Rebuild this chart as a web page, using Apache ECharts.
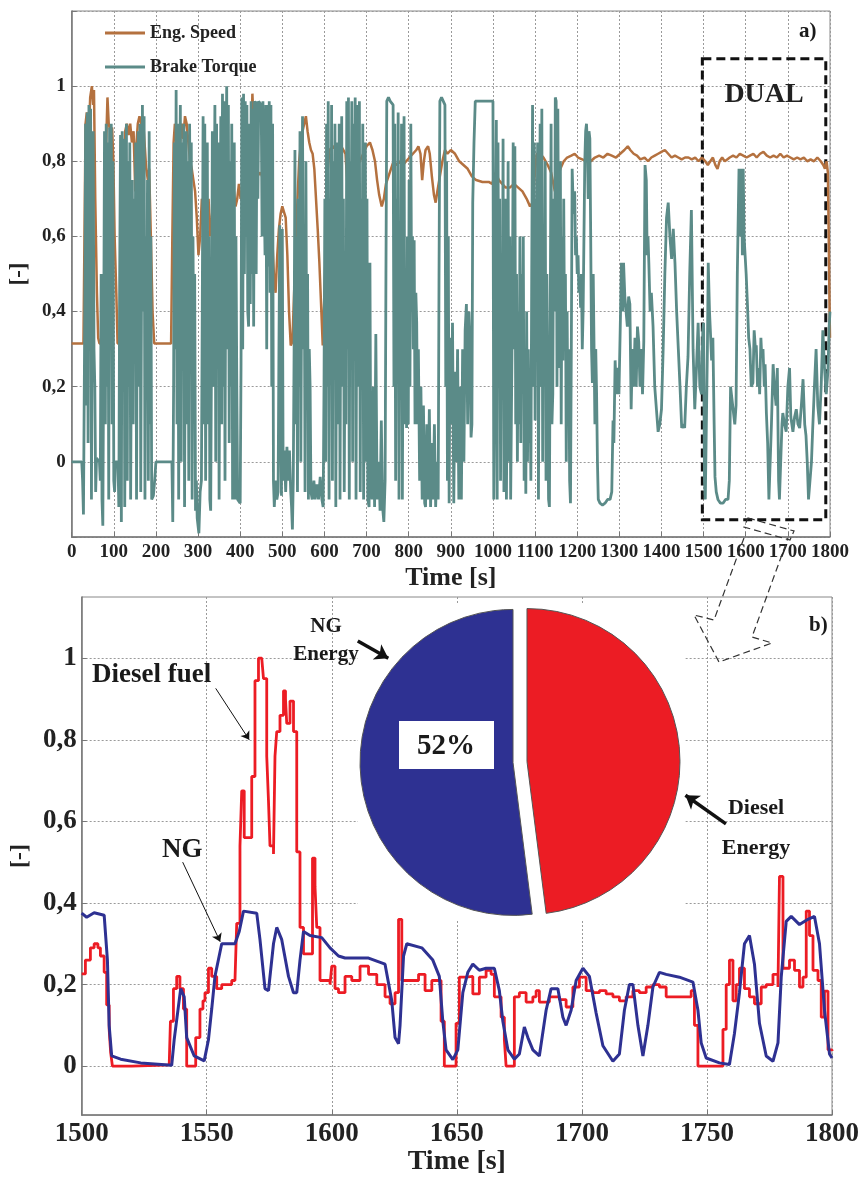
<!DOCTYPE html>
<html><head><meta charset="utf-8">
<script src="https://cdn.jsdelivr.net/npm/echarts@6.0.0/dist/echarts.min.js"></script>
<style>html,body{margin:0;padding:0;background:#fff}#c{width:864px;height:1177px}</style>
</head><body><div id="c"></div>
<script>
// ---------- data ----------
const engSpeed = [[0,0.315],[28,0.315],[30,0.55],[33,0.9],[36,0.93],[40,0.85],[44,0.97],[48,1.0],[51,0.95],[53,0.99],[56,0.7],[60,0.45],[63,0.33],[66,0.315],[77,0.315],[79,0.6],[82,0.85],[85,0.97],[88,0.9],[92,0.88],[96,0.89],[99,0.8],[102,0.6],[106,0.45],[109,0.315],[121,0.315],[124,0.7],[127,0.88],[131,0.9],[135,0.87],[139,0.9],[143,0.85],[147,0.88],[151,0.72],[154,0.85],[157,0.9],[161,0.92],[165,0.9],[169,0.92],[173,0.85],[177,0.78],[181,0.75],[184,0.78],[188,0.6],[192,0.4],[196,0.315],[236,0.315],[239,0.6],[242,0.85],[245,0.9],[249,0.85],[253,0.88],[257,0.84],[261,0.9],[265,0.86],[269,0.92],[273,0.9],[277,0.85],[281,0.8],[285,0.78],[289,0.75],[293,0.72],[297,0.65],[301,0.55],[305,0.6],[309,0.7],[313,0.68],[317,0.62],[321,0.66],[325,0.7],[329,0.6],[333,0.65],[337,0.72],[341,0.77],[345,0.78],[349,0.75],[353,0.7],[357,0.72],[361,0.74],[365,0.73],[369,0.7],[373,0.72],[377,0.75],[381,0.74],[385,0.72],[389,0.68],[393,0.7],[397,0.74],[401,0.7],[405,0.72],[409,0.75],[413,0.76],[417,0.75],[421,0.76],[425,0.78],[429,0.98],[432,0.9],[436,0.77],[440,0.76],[444,0.76],[448,0.77],[452,0.76],[456,0.78],[460,0.8],[464,0.78],[468,0.75],[472,0.7],[476,0.6],[480,0.5],[484,0.45],[488,0.55],[492,0.62],[496,0.66],[500,0.68],[504,0.68],[508,0.65],[512,0.55],[516,0.4],[520,0.31],[524,0.32],[528,0.45],[532,0.57],[536,0.7],[540,0.8],[544,0.85],[548,0.88],[552,0.9],[556,0.92],[560,0.88],[564,0.85],[568,0.83],[572,0.82],[576,0.78],[580,0.7],[584,0.62],[588,0.53],[592,0.42],[596,0.31],[600,0.45],[604,0.6],[608,0.78],[612,0.83],[620,0.84],[630,0.83],[640,0.84],[650,0.82],[655,0.73],[660,0.76],[668,0.78],[676,0.78],[684,0.8],[692,0.82],[700,0.84],[708,0.85],[714,0.83],[720,0.8],[725,0.75],[730,0.71],[736,0.68],[741,0.7],[746,0.74],[752,0.76],[758,0.78],[764,0.8],[770,0.79],[778,0.8],[786,0.79],[794,0.8],[802,0.81],[810,0.82],[818,0.83],[823,0.84],[828,0.82],[832,0.75],[836,0.8],[840,0.83],[846,0.84],[850,0.82],[855,0.76],[860,0.71],[864,0.69],[868,0.72],[874,0.76],[880,0.8],[886,0.83],[892,0.82],[900,0.83],[910,0.82],[920,0.8],[930,0.79],[940,0.78],[950,0.76],[960,0.75],[975,0.745],[990,0.745],[998,0.74],[1006,0.77],[1014,0.75],[1022,0.74],[1030,0.73],[1040,0.73],[1050,0.74],[1060,0.73],[1070,0.72],[1080,0.7],[1088,0.68],[1094,0.69],[1098,0.75],[1104,0.82],[1112,0.82],[1120,0.81],[1130,0.79],[1138,0.77],[1147,0.72],[1152,0.75],[1160,0.78],[1168,0.8],[1176,0.81],[1186,0.815],[1194,0.82],[1202,0.81],[1212,0.805],[1222,0.8],[1232,0.8],[1242,0.81],[1252,0.815],[1262,0.81],[1272,0.82],[1282,0.815],[1292,0.81],[1302,0.82],[1312,0.83],[1320,0.84],[1326,0.83],[1334,0.82],[1342,0.815],[1350,0.805],[1360,0.81],[1368,0.8],[1376,0.81],[1384,0.815],[1392,0.82],[1400,0.825],[1408,0.83],[1416,0.82],[1424,0.81],[1432,0.815],[1440,0.81],[1448,0.805],[1456,0.81],[1464,0.81],[1472,0.805],[1480,0.81],[1488,0.8],[1496,0.81],[1504,0.8],[1510,0.79],[1516,0.8],[1522,0.81],[1528,0.79],[1533,0.78],[1538,0.8],[1544,0.81],[1550,0.8],[1556,0.805],[1562,0.81],[1570,0.815],[1578,0.81],[1586,0.82],[1594,0.815],[1602,0.81],[1610,0.815],[1618,0.82],[1626,0.81],[1634,0.82],[1642,0.825],[1650,0.815],[1658,0.81],[1666,0.815],[1674,0.81],[1682,0.82],[1690,0.81],[1698,0.815],[1706,0.81],[1714,0.805],[1722,0.81],[1730,0.805],[1738,0.81],[1746,0.8],[1754,0.805],[1762,0.8],[1770,0.81],[1778,0.8],[1784,0.79],[1788,0.78],[1792,0.8],[1795,0.77],[1797,0.6],[1799,0.4],[1800,0.33]];

const brakeTorque = [[0,0],[24,0],[26,-0.05],[28,-0.14],[30,0.2],[32,0.55],[33,0.9],[35,0.15],[37,0.93],[39,0.05],[41,0.95],[43,0.6],[45,0.94],[47,-0.1],[49,0.5],[51,0.88],[53,0.3],[55,0.2],[57,-0.08],[59,0.01],[66,0],[68,-0.05],[70,0.5],[72,-0.1],[74,-0.17],[76,0.3],[78,0.88],[80,0.1],[82,0.9],[84,0.2],[86,0.85],[88,-0.1],[90,0.89],[92,0.3],[94,0.9],[96,0.1],[98,0.8],[100,-0.05],[102,-0.08],[104,0],[110,0],[112,-0.12],[114,0.5],[116,0.87],[118,-0.16],[120,0.88],[122,0.2],[124,0.86],[126,-0.12],[128,0.4],[130,0.9],[132,-0.05],[134,0.8],[136,0.2],[138,0.85],[140,-0.1],[142,0.4],[144,0.75],[146,0.1],[148,0.7],[150,0.3],[152,0.85],[154,-0.1],[156,0.6],[158,0.88],[160,0.2],[162,0.9],[164,-0.08],[166,0.5],[168,0.95],[170,0.4],[172,0.92],[174,-0.1],[176,0.6],[178,0.2],[180,0.75],[182,-0.05],[184,0.88],[186,0.1],[188,0.6],[190,-0.1],[194,-0.09],[197,-0.05],[200,0],[238,0],[240,-0.16],[242,0.2],[244,0.85],[246,0.3],[248,0.99],[250,0.1],[252,0.9],[254,-0.1],[256,0.7],[258,0.95],[260,0],[262,0.85],[264,0.3],[266,0.9],[268,-0.12],[270,0.5],[272,0.88],[274,0.1],[276,0.8],[278,-0.05],[280,0.9],[282,0.4],[284,0.85],[286,-0.1],[288,0.6],[290,0.2],[292,0.5],[294,-0.13],[296,-0.05],[298,-0.15],[300,-0.17],[302,-0.19],[305,-0.08],[308,-0.05],[310,0.4],[312,0.92],[314,0.1],[316,0.9],[318,-0.05],[320,0.6],[322,0.85],[324,0.1],[326,0.6],[328,-0.1],[330,-0.13],[332,0.3],[334,0.88],[336,0.2],[338,0.6],[340,0.95],[342,0],[344,0.9],[346,0.3],[348,0.85],[350,-0.1],[352,0.5],[354,0.92],[356,0.1],[358,0.98],[360,0.2],[362,0.96],[364,-0.05],[366,0.7],[368,1.0],[370,0.3],[372,0.95],[374,0.05],[376,0.8],[378,0.2],[380,0.9],[382,-0.1],[384,0.5],[386,0.85],[388,-0.1],[390,0.6],[392,0.2],[394,-0.1],[398,-0.1],[400,-0.11],[402,0.25],[404,0.97],[406,0.3],[408,0.98],[410,0.5],[412,0.96],[414,0.6],[416,0.95],[418,0.4],[420,0.36],[422,0.9],[424,0.42],[426,0.96],[428,0.5],[430,0.94],[432,0.36],[434,0.96],[436,0.95],[438,0.5],[440,0.96],[442,0.7],[444,0.96],
[446,0.96],[450,0.95],[452,0.6],[454,0.96],[457,0.96],[459,0.55],[461,0.95],[463,0.3],[465,0.95],[467,0.52],[469,0.96],[471,0.45],[473,0.95],[475,0.2],[477,0.9],[479,-0.05],[481,-0.12],[484,-0.05],[487,-0.1],[490,-0.08],[492,0.3],[494,0.63],[496,0.1],[498,-0.09],[500,0.62],[502,-0.05],[505,0.03],[508,-0.08],[511,0.04],[514,-0.05],[517,0.03],[520,-0.08],[522,-0.12],[524,-0.18],[526,-0.05],[528,0.3],[530,0.83],[532,0.1],[534,0.6],[536,-0.08],[538,0.7],[540,0.2],[542,0.88],[544,0],[546,0.5],[548,0.92],[550,0.3],[552,0.6],[554,-0.08],[556,0.8],[558,0.2],[560,0.5],[562,-0.1],[564,0.3],[566,0.2],[568,-0.08],[571,-0.1],[575,-0.05],[578,-0.1],[582,-0.06],[586,-0.1],[590,-0.04],[594,-0.1],[597,-0.12],[599,0.2],[601,0.7],[603,0],[605,0.9],[607,0.2],[609,0.96],[611,-0.1],[613,0.7],[615,0.3],[617,0.95],[619,-0.05],[621,0.8],[623,0.4],[625,0.9],[627,-0.12],[629,0.5],[631,0.85],[633,0.1],[635,0.9],[637,-0.1],[639,0.6],[641,0.92],[643,0.2],[645,0.7],[647,-0.08],[649,0.4],[651,0.1],[653,0.96],[655,0.3],[657,0.97],[659,-0.1],[661,0.8],[663,0.5],[665,0.96],[667,0],[669,0.9],[671,0.3],[673,0.97],[675,-0.1],[677,0.6],[679,0.95],[681,0.2],[683,0.96],[685,-0.08],[687,0.7],[689,0.3],[691,0.9],[693,-0.1],[695,0.5],[697,0.85],[699,0],[701,0.7],[703,-0.1],[706,-0.12],[708,0.53],[710,-0.05],[713,-0.1],[716,0.2],[719,-0.12],[722,0.34],[725,-0.1],[729,0],[732,-0.13],[735,0.11],[738,-0.12],[741,-0.16],[744,-0.05],[746,0.5],[748,0.96],[752,0.97],[756,0.96],[760,0.96],[763,0.95],[765,0.2],[767,0.9],[769,-0.05],[771,0.7],[773,0.3],[775,0.93],[777,-0.1],[779,0.6],[781,0.2],[783,0.9],[785,-0.1],[787,0.5],[789,0.92],[791,0.1],[793,0.5],[795,0.09],[797,0.6],[799,0.1],[801,0.75],[803,0.2],[805,0.9],[807,0.4],[809,0.6],[811,0.3],[813,0.59],[815,0.1],[817,0.45],[819,0.37],[821,0.1],[823,0.3],[826,-0.05],[829,0.2],[832,-0.1],[835,0.15],[838,-0.11],[840,-0.12],[843,0.1],[846,-0.1],[849,0.14],[852,-0.12],[855,0.05],[858,-0.1],[861,0.1],[864,-0.12],[867,0],[870,-0.1],[872,0.5],[874,0.96],[878,0.97],[882,0.96],[886,0.95],[888,0.2],[890,0.8],[892,-0.05],[894,0.6],[896,-0.11],
[898,0.33],[901,0.1],[904,0.37],[907,-0.11],[910,0.24],[913,0],[916,0.3],[919,-0.1],[922,0.2],[925,-0.1],[928,0.3],[931,0],[934,0.35],[937,0.42],[940,0.1],[943,0.4],[946,0.3],[948,0.065],[950,0.1],[952,0.69],[955,0.85],[958,0.96],[1000,0.96],[1002,-0.1],[1004,0.2],[1006,0.6],[1008,0.91],[1010,-0.1],[1012,0.85],[1014,0.3],[1016,0.7],[1018,-0.05],[1020,0.5],[1022,0.2],[1024,0.86],[1026,-0.08],[1028,0.4],[1030,0.7],[1032,-0.1],[1034,0.3],[1036,0.8],[1038,0],[1040,0.6],[1042,-0.1],[1044,-0.1],[1046,0.4],[1048,0.85],[1050,0.3],[1052,0.84],[1054,0.1],[1056,0.5],[1058,0],[1060,0.4],[1062,0.1],[1064,0.6],[1066,0.05],[1068,0.5],[1070,0.2],[1072,0.6],[1074,-0.05],[1076,0.3],[1078,-0.085],[1080,0.4],[1082,0],[1084,0.3],[1086,0.05],[1088,0.2],[1090,-0.05],[1092,0.5],[1094,0.95],[1096,0.2],[1098,0.85],[1100,0.11],[1102,0.7],[1104,0.4],[1106,0.85],[1108,-0.1],[1110,0.5],[1112,0.9],[1114,0.2],[1116,0.94],[1118,0],[1120,0.6],[1122,0.3],[1124,0.8],[1126,-0.05],[1128,0.5],[1130,0.2],[1132,-0.1],[1134,-0.12],[1136,0.4],[1138,0.9],[1140,0.1],[1142,0.18],[1144,0.7],[1146,0.4],[1148,0.97],[1150,0.96],[1152,0.2],[1154,0.94],[1156,0.5],[1158,0.25],[1160,0.8],[1162,0.1],[1164,0.6],[1166,0.27],[1168,0.7],[1170,0.3],[1172,0.5],[1174,0],[1176,0.4],[1178,0.1],[1180,0.3],[1182,-0.05],[1184,-0.11],[1186,0.3],[1188,0.78],[1190,0.7],[1192,0.66],[1194,0.72],[1196,0.55],[1198,0.6],[1200,0.5],[1202,0.55],[1204,0.45],[1206,0.49],[1208,0.41],[1210,0.5],[1212,0.3],[1214,0.4],[1216,0.6],[1218,0.8],[1220,0.88],[1222,0.9],[1224,0.85],[1226,0.7],[1228,0.88],[1230,0.86],[1232,0.6],[1234,0.3],[1236,0.21],[1238,0.5],[1240,0.3],[1242,0.1],[1244,0.3],[1246,0.18],[1248,0],[1250,-0.1],[1254,-0.11],[1260,-0.115],[1266,-0.11],[1272,-0.1],[1278,-0.1],[1282,-0.08],[1285,0.11],[1287,0.05],[1290,0.27],[1293,0.18],[1296,0.25],[1299,0.18],[1302,0.35],[1305,0.53],[1308,0.4],[1310,0.53],[1313,0.44],[1316,0.44],[1319,0.36],[1322,0.44],[1325,0.42],[1328,0.14],[1331,0.3],[1334,0.2],[1337,0.33],[1340,0.2],[1343,0.36],[1346,0.32],[1349,0.2],[1352,0.3],[1355,0.18],[1358,0.32],[1361,0.79],[1364,0.75],[1366,0.55],[1368,0.6],[1370,0.53],[1373,0.4],[1376,0.45],[1380,0.36],[1384,0.2],[1388,0.14],[1392,0.08],[1396,0.1],[1400,0.14],[1404,0.3],[1408,0.5],[1412,0.65],[1416,0.69],[1420,0.6],[1424,0.54],[1428,0.62],[1432,0.53],[1436,0.4],[1440,0.3],[1444,0.2],[1448,0.09],[1452,0.1],[1455,0.09],[1459,0.2],[1463,0.28],[1467,0.5],[1471,0.67],[1475,0.3],[1479,0.14],[1483,0.25],[1487,0.37],[1491,0.2],[1495,0.18],[1498,0.35],
[1500,0.37],[1502,-0.05],[1504,-0.1],[1507,-0.1],[1509,0.3],[1511,0.53],[1514,0.4],[1516,0.35],[1519,0.27],[1522,0.33],[1525,0.1],[1527,-0.04],[1530,-0.08],[1534,-0.1],[1540,-0.11],[1546,-0.11],[1552,-0.1],[1558,-0.1],[1561,-0.05],[1564,0.2],[1566,0.2],[1570,0.14],[1574,0.1],[1577,0.15],[1580,0.5],[1582,0.64],[1584,0.78],[1586,0.76],[1588,0.6],[1590,0.78],[1592,0.55],[1594,0.78],[1596,0.6],[1598,0.56],[1601,0.5],[1604,0.42],[1607,0.33],[1610,0.3],[1613,0.2],[1617,0.21],[1620,0.35],[1623,0.3],[1625,0.31],[1628,0.2],[1631,0.25],[1633,0.18],[1636,0.33],[1638,0.28],[1641,0.3],[1644,0.2],[1646,0.26],[1649,0.13],[1652,0.05],[1655,-0.1],[1658,-0.1],[1661,0.1],[1665,0.26],[1668,0.2],[1672,0.15],[1675,0.25],[1678,-0.05],[1680,-0.1],[1684,-0.1],[1686,0.1],[1688,0.13],[1692,0.1],[1696,0.08],[1700,0.2],[1704,0.25],[1707,0.12],[1712,0.08],[1716,0.12],[1720,0.14],[1724,0.1],[1728,0.09],[1732,0.15],[1736,0.22],[1740,0.1],[1743,0.07],[1746,0],[1749,-0.1],[1753,-0.1],[1756,0],[1759,0.09],[1763,0.2],[1767,0.3],[1771,0.15],[1775,0.1],[1779,0.2],[1783,0.35],[1787,0.25],[1791,0.18],[1795,0.24],[1798,0.36],[1800,0.4]];

const dieselFuel = [[1500,0.226],[1501.5,0.26],[1503.5,0.29],[1505,0.3],[1506.5,0.29],[1507.5,0.27],[1509,0.23],[1510,0.15],[1511,0.09],[1511.6,0.033],[1512.3,0],[1520,0.002],[1530,0.003],[1535,0.003],[1535.5,0.11],[1536.7,0.19],[1538,0.22],[1539.3,0.19],[1540.7,0.14],[1542,0],[1544.7,0],[1545.6,0.07],[1547.3,0.14],[1548.5,0.16],[1549.3,0.18],[1550.7,0.24],[1552,0.22],[1554,0.19],[1556,0.2],[1558,0.2],[1560,0.21],[1561.3,0.21],[1562,0.35],[1563.3,0.54],[1564,0.675],[1565,0.56],[1566.5,0.56],[1568,0.71],[1569.3,0.945],[1570.7,1.0],[1572,1.0],[1572.7,0.95],[1574,0.76],[1574.7,0.65],[1575.3,0.54],[1576.7,0.52],[1577.3,0.76],[1578,0.82],[1579.3,0.86],[1580.7,0.92],[1581.5,0.9],[1582,0.84],[1583.3,0.895],[1584.7,0.82],[1586,0.525],[1587.3,0.34],[1588.7,0.275],[1591.3,0.275],[1592.3,0.51],[1593.3,0.44],[1594,0.34],[1595.3,0.21],[1599.3,0.2],[1600,0.245],[1601.3,0.19],[1602.7,0.18],[1605.3,0.22],[1608,0.21],[1611.3,0.245],[1614.7,0.225],[1618,0.2],[1621.3,0.17],[1623.3,0.153],[1625.3,0.18],[1626.7,0.36],[1628,0.21],[1630.7,0.21],[1634.7,0.225],[1637.3,0.185],[1640,0.21],[1642.4,0.21],[1643.7,0.11],[1645,0],[1648.4,0],[1649.7,0.105],[1651,0.218],[1653.7,0.22],[1656.4,0.177],[1659,0.218],[1661.7,0.235],[1663.7,0.225],[1665,0.17],[1666.4,0.17],[1667.7,0.12],[1669,0.065],[1669.7,0],[1671.7,0],[1673,0.17],[1675,0.18],[1677.7,0.157],[1680.4,0.17],[1681.7,0.185],[1683,0.157],[1687,0.17],[1691,0.163],[1693.7,0.145],[1696.4,0.194],[1699,0.218],[1701.7,0.185],[1704.4,0.18],[1707,0.185],[1709.7,0.177],[1712.4,0.17],[1715,0.16],[1717.7,0.17],[1720.4,0.185],[1723,0.18],[1725.7,0.194],[1728.4,0.2],[1731,0.194],[1733.7,0.17],[1739,0.17],[1743.7,0.185],[1745,0.1],[1746.4,0],[1755,0],[1756.4,0.09],[1757.7,0.2],[1759,0.26],[1760.4,0.16],[1761.7,0.2],[1763,0.24],[1765,0.19],[1767,0.17],[1769,0.153],[1771.7,0.194],[1773.7,0.2],[1776.4,0.225],[1778.4,0.194],[1779,0.465],[1780.4,0.24],[1783,0.26],[1785,0.235],[1787,0.194],[1788.4,0.218],[1789.7,0.38],[1791,0.32],[1792.4,0.235],[1794.4,0.21],[1795.7,0.12],[1797,0.184],[1798.4,0.04],[1800,0.037]];

const ngFuel = [[1500,0.375],[1502,0.365],[1505,0.376],[1509,0.37],[1510.3,0.26],[1511,0.1],[1512,0.025],[1515.6,0.017],[1523.6,0.008],[1536,0.002],[1537,0.065],[1539.6,0.19],[1541,0.17],[1542,0.07],[1545,0.025],[1549,0.013],[1550.7,0.065],[1552,0.14],[1553.3,0.22],[1556,0.3],[1561.3,0.3],[1563,0.33],[1564.7,0.38],[1570,0.375],[1571.3,0.31],[1573.3,0.19],[1574.7,0.185],[1576.7,0.3],[1578,0.34],[1580,0.31],[1582.7,0.22],[1584.7,0.18],[1586,0.18],[1587.3,0.26],[1588.7,0.33],[1591.3,0.32],[1596,0.315],[1599.3,0.29],[1602.7,0.27],[1605.3,0.265],[1614.7,0.265],[1621.3,0.25],[1624,0.16],[1625.3,0.07],[1626.7,0.055],[1627.3,0.1],[1628.7,0.27],[1630,0.3],[1636,0.29],[1640.4,0.26],[1643,0.22],[1644.4,0.11],[1645.7,0.04],[1648.4,0.016],[1650.4,0.04],[1652.4,0.18],[1654.4,0.23],[1656.4,0.25],[1659,0.235],[1661.7,0.24],[1665,0.24],[1667,0.185],[1668.4,0.11],[1670.4,0.04],[1673,0.017],[1675,0.03],[1677,0.096],[1678.4,0.07],[1680.4,0.04],[1683,0.025],[1685.7,0.137],[1687.7,0.19],[1690.4,0.19],[1692.4,0.12],[1693.7,0.1],[1695.7,0.137],[1697.7,0.21],[1700.4,0.24],[1703,0.22],[1705.7,0.13],[1708.4,0.05],[1712.4,0.012],[1715,0.03],[1717,0.137],[1719,0.2],[1720.4,0.2],[1722.4,0.1],[1724.4,0.025],[1726.4,0.1],[1728.4,0.194],[1731,0.23],[1733.7,0.225],[1739,0.218],[1744.4,0.206],[1746.4,0.137],[1747.7,0.057],[1749.7,0.02],[1755,0.008],[1759,0.004],[1761,0.08],[1763,0.18],[1765,0.3],[1767,0.32],[1769,0.25],[1771,0.105],[1773.7,0.025],[1776.4,0.012],[1778.4,0.057],[1779.7,0.218],[1781.7,0.355],[1783.7,0.367],[1787,0.347],[1790.4,0.36],[1793,0.367],[1795,0.3],[1797,0.137],[1799,0.03],[1800,0.02]];

const pieNames = ['Diesel Energy', 'NG Energy'];
const pieValues = [48, 52];
const topYLabels = [0, 0.2, 0.4, 0.6, 0.8, 1];
const bottomYLabels = [0, 0.2, 0.4, 0.6, 0.8, 1];
const dualWindow = [1497, 1790];

// ---------- styling ----------
const F = "'Liberation Serif','Times New Roman',serif";
const BROWN = '#b4713f', TEAL = '#5b8b88', RED = '#ec1c24', BLUE = '#2e3192';
const fmt = v => String(Math.round(v * 10) / 10).replace('.', ',');
const plain = v => String(v);
const gridLine = {show: true, lineStyle: {color: '#9a9a9a', type: [2, 2], width: 1}};
const axLine = {show: true, onZero: false, lineStyle: {color: '#777', width: 1.5}};
const tick = {show: true, inside: true, length: 5, lineStyle: {color: '#777'}};

const chart = echarts.init(document.getElementById('c'), null, {renderer: 'canvas'});

function arrow(from, to, w, size) {
  return [{coord: from, symbol: 'none'},
          {coord: to, symbol: 'arrow', symbolSize: size, lineStyle: {width: w, color: '#111', type: 'solid'}}];
}
function txt(x, y, s, size, align) {
  return {type: 'text', z: 100, silent: true,
    style: {x: x, y: y, text: s, fill: '#1a1a1a', font: 'bold ' + size + 'px ' + F,
            textAlign: align || 'left', textVerticalAlign: 'middle'}};
}

const option = {
  animation: false,
  backgroundColor: '#fff',
  textStyle: {fontFamily: F},
  legend: {
    data: ['Eng. Speed', 'Brake Torque'], orient: 'vertical', left: 100, top: 19,
    icon: 'rect', itemWidth: 40, itemHeight: 3, itemGap: 16, selectedMode: false,
    textStyle: {fontFamily: F, fontSize: 18, fontWeight: 'bold', color: '#222'}
  },
  grid: [
    {left: 70, top: 11, width: 760, height: 526, show: true, borderColor: '#888', borderWidth: 1},
    {left: 81, top: 597, width: 751, height: 521, show: true, borderColor: '#888', borderWidth: 1}
  ],
  xAxis: [
    {type: 'value', gridIndex: 0, min: 0, max: 1800, interval: 100,
     axisLine: axLine, axisTick: tick, splitLine: gridLine,
     axisLabel: {formatter: plain, showMinLabel: true, showMaxLabel: true, hideOverlap: false,
                 fontSize: 19, fontWeight: 'bold', color: '#222', margin: 6, fontFamily: F},
     name: 'Time [s]', nameLocation: 'middle', nameGap: 28,
     nameTextStyle: {fontSize: 26, fontWeight: 'bold', color: '#222', fontFamily: F}},
    {type: 'value', gridIndex: 1, min: 1500, max: 1800, interval: 50,
     axisLine: axLine, axisTick: tick, splitLine: gridLine,
     axisLabel: {formatter: plain, showMinLabel: true, showMaxLabel: true,
                 fontSize: 27, fontWeight: 'bold', color: '#222', margin: 5, fontFamily: F},
     name: 'Time [s]', nameLocation: 'middle', nameGap: 30,
     nameTextStyle: {fontSize: 28, fontWeight: 'bold', color: '#222', fontFamily: F}}
  ],
  yAxis: [
    {type: 'value', gridIndex: 0, min: -0.2, max: 1.2, interval: 0.2,
     axisLine: axLine, axisTick: tick, splitLine: gridLine,
     axisLabel: {customValues: topYLabels, formatter: fmt, fontSize: 19, fontWeight: 'bold', color: '#222', margin: 6, fontFamily: F},
     name: '[-]', nameLocation: 'middle', nameGap: 30, nameRotate: 90,
     nameTextStyle: {fontSize: 23, fontWeight: 'bold', color: '#222', fontFamily: F}},
    {type: 'value', gridIndex: 1, min: -0.12, max: 1.15, splitNumber: 6,
     axisLine: axLine, axisTick: Object.assign({}, tick, {customValues: bottomYLabels}), splitLine: gridLine,
     axisLabel: {customValues: bottomYLabels, formatter: fmt, fontSize: 27, fontWeight: 'bold', color: '#222', margin: 5, fontFamily: F},
     name: '[-]', nameLocation: 'middle', nameGap: 42, nameRotate: 90,
     nameTextStyle: {fontSize: 24, fontWeight: 'bold', color: '#222', fontFamily: F}}
  ],
  series: [
    {name: 'Eng. Speed', type: 'line', xAxisIndex: 0, yAxisIndex: 0, data: engSpeed,
     symbol: 'none', showSymbol: false, z: 2,
     lineStyle: {color: BROWN, width: 2.5}, itemStyle: {color: BROWN}},
    {name: 'Brake Torque', type: 'line', xAxisIndex: 0, yAxisIndex: 0, data: brakeTorque,
     symbol: 'none', showSymbol: false, z: 3,
     lineStyle: {color: TEAL, width: 2.8}, itemStyle: {color: TEAL},
     markArea: {silent: true,
       itemStyle: {color: 'rgba(0,0,0,0)', borderColor: '#111', borderWidth: 3, borderType: [9, 5]},
       label: {show: true, position: 'insideTop', distance: 24, fontSize: 28, fontWeight: 'bold', color: '#222', fontFamily: F},
       data: [[{name: 'DUAL', xAxis: dualWindow[0], yAxis: 1.073}, {xAxis: dualWindow[1], yAxis: -0.154}]]}},
    {name: 'Diesel fuel', type: 'line', xAxisIndex: 1, yAxisIndex: 1, data: dieselFuel, step: 'end',
     symbol: 'none', showSymbol: false, z: 3,
     lineStyle: {color: RED, width: 2.8}, itemStyle: {color: RED}},
    {name: 'NG', type: 'line', xAxisIndex: 1, yAxisIndex: 1, data: ngFuel,
     symbol: 'none', showSymbol: false, z: 4,
     lineStyle: {color: BLUE, width: 3}, itemStyle: {color: BLUE},
     markLine: {silent: true, animation: false, label: {show: false},
       data: [
         arrow([1610.4, 1.042], [1622.6, 1.0], 3.5, 13),
         arrow([1757.6, 0.594], [1741.4, 0.664], 3.5, 13),
         arrow([1553.6, 0.926], [1567.0, 0.8], 1, 8),
         arrow([1540.4, 0.5], [1555.4, 0.305], 1, 8)
       ]}},
    {name: 'Energy share', type: 'pie', center: [520, 762], radius: 153, startAngle: 90, clockwise: true,
     selectedMode: 'multiple', selectedOffset: 7, silent: true, z: 5,
     label: {show: false}, labelLine: {show: false}, emphasis: {disabled: true},
     itemStyle: {borderColor: '#555', borderWidth: 1},
     data: [
       {name: pieNames[0], value: pieValues[0], selected: true, itemStyle: {color: RED}},
       {name: pieNames[1], value: pieValues[1], selected: true, itemStyle: {color: BLUE}}
     ]}
  ],
  graphic: [
    {type: 'rect', z: 1, silent: true, shape: {x: 358, y: 605, width: 327, height: 314}, style: {fill: '#fff'}},
    {type: 'rect', z: 90, silent: true, shape: {x: 399, y: 721, width: 95, height: 48}, style: {fill: '#fff'}},
    txt(446, 747, pieValues[1] + '%', 29, 'center'),
    txt(799, 32, 'a)', 21),
    txt(809, 626, 'b)', 21),
    txt(92, 675, 'Diesel fuel', 27),
    txt(162, 850, 'NG', 27),
    txt(326, 627, 'NG', 21, 'center'),
    txt(326, 655, 'Energy', 21, 'center'),
    txt(756, 808, 'Diesel', 22, 'center'),
    txt(756, 848, 'Energy', 22, 'center'),
    {type: 'polygon', z: 100, silent: true,
     shape: {points: [[748, 518], [794, 531], [790, 540], [744, 527]]},
     style: {fill: 'none', stroke: '#333', lineWidth: 1.2, lineDash: [7, 4]}},
    {type: 'polyline', z: 100, silent: true,
     shape: {points: [[744, 538], [714, 620], [694, 615], [719, 662], [772, 643], [752, 637], [788, 538]]},
     style: {fill: 'none', stroke: '#333', lineWidth: 1.2, lineDash: [7, 4]}}
  ]
};
chart.setOption(option);
</script></body></html>
